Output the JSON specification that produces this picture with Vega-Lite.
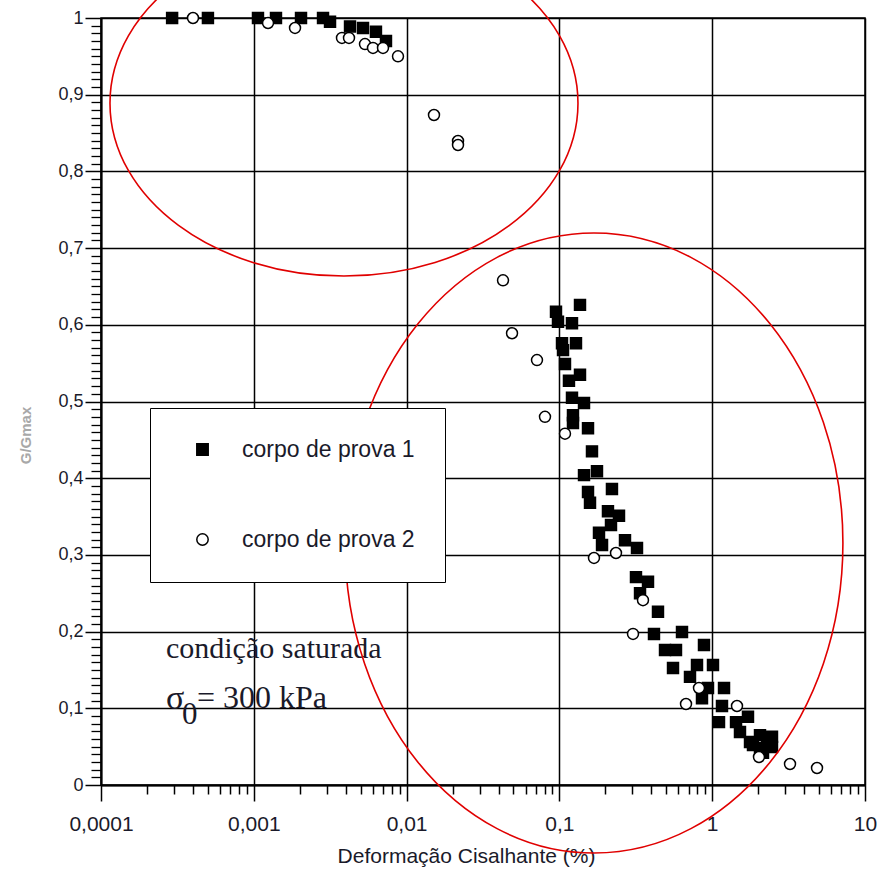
{
  "$schema": "https://vega.github.io/schema/vega-lite/v6.json",
  "width": 764,
  "height": 767,
  "autosize": {"type": "none"},
  "padding": {"left": 101, "top": 18, "right": 18, "bottom": 89},
  "background": "white",
  "config": {
    "font": "Liberation Sans",
    "view": {"stroke": "black", "strokeWidth": 1.5},
    "axis": {"labelColor": "#1a1a2a", "tickColor": "black", "domainColor": "black", "gridColor": "black", "gridOpacity": 1, "labelFlush": false, "tickOpacity": 1}
  },
  "datasets": {
    "pts": [
      {"gamma": 0.000292, "g": 1.0, "serie": "corpo de prova 1"},
      {"gamma": 0.000501, "g": 1.0, "serie": "corpo de prova 1"},
      {"gamma": 0.001065, "g": 1.0, "serie": "corpo de prova 1"},
      {"gamma": 0.001397, "g": 1.0, "serie": "corpo de prova 1"},
      {"gamma": 0.002037, "g": 1.0, "serie": "corpo de prova 1"},
      {"gamma": 0.002838, "g": 1.0, "serie": "corpo de prova 1"},
      {"gamma": 0.003154, "g": 0.995, "serie": "corpo de prova 1"},
      {"gamma": 0.004263, "g": 0.989, "serie": "corpo de prova 1"},
      {"gamma": 0.005185, "g": 0.987, "serie": "corpo de prova 1"},
      {"gamma": 0.006302, "g": 0.982, "serie": "corpo de prova 1"},
      {"gamma": 0.00733, "g": 0.97, "serie": "corpo de prova 1"},
      {"gamma": 0.1364, "g": 0.626, "serie": "corpo de prova 1"},
      {"gamma": 0.095, "g": 0.617, "serie": "corpo de prova 1"},
      {"gamma": 0.0979, "g": 0.604, "serie": "corpo de prova 1"},
      {"gamma": 0.1209, "g": 0.602, "serie": "corpo de prova 1"},
      {"gamma": 0.104, "g": 0.576, "serie": "corpo de prova 1"},
      {"gamma": 0.1284, "g": 0.576, "serie": "corpo de prova 1"},
      {"gamma": 0.1056, "g": 0.567, "serie": "corpo de prova 1"},
      {"gamma": 0.1088, "g": 0.549, "serie": "corpo de prova 1"},
      {"gamma": 0.1364, "g": 0.535, "serie": "corpo de prova 1"},
      {"gamma": 0.1155, "g": 0.527, "serie": "corpo de prova 1"},
      {"gamma": 0.1209, "g": 0.505, "serie": "corpo de prova 1"},
      {"gamma": 0.1449, "g": 0.498, "serie": "corpo de prova 1"},
      {"gamma": 0.1227, "g": 0.482, "serie": "corpo de prova 1"},
      {"gamma": 0.1227, "g": 0.472, "serie": "corpo de prova 1"},
      {"gamma": 0.1539, "g": 0.465, "serie": "corpo de prova 1"},
      {"gamma": 0.1634, "g": 0.435, "serie": "corpo de prova 1"},
      {"gamma": 0.1449, "g": 0.404, "serie": "corpo de prova 1"},
      {"gamma": 0.1762, "g": 0.409, "serie": "corpo de prova 1"},
      {"gamma": 0.2208, "g": 0.386, "serie": "corpo de prova 1"},
      {"gamma": 0.1539, "g": 0.382, "serie": "corpo de prova 1"},
      {"gamma": 0.1586, "g": 0.368, "serie": "corpo de prova 1"},
      {"gamma": 0.2079, "g": 0.357, "serie": "corpo de prova 1"},
      {"gamma": 0.2455, "g": 0.351, "serie": "corpo de prova 1"},
      {"gamma": 0.2176, "g": 0.339, "serie": "corpo de prova 1"},
      {"gamma": 0.1816, "g": 0.329, "serie": "corpo de prova 1"},
      {"gamma": 0.1901, "g": 0.313, "serie": "corpo de prova 1"},
      {"gamma": 0.2687, "g": 0.319, "serie": "corpo de prova 1"},
      {"gamma": 0.322, "g": 0.309, "serie": "corpo de prova 1"},
      {"gamma": 0.3171, "g": 0.271, "serie": "corpo de prova 1"},
      {"gamma": 0.3801, "g": 0.265, "serie": "corpo de prova 1"},
      {"gamma": 0.337, "g": 0.25, "serie": "corpo de prova 1"},
      {"gamma": 0.4418, "g": 0.226, "serie": "corpo de prova 1"},
      {"gamma": 0.4159, "g": 0.197, "serie": "corpo de prova 1"},
      {"gamma": 0.6344, "g": 0.1995, "serie": "corpo de prova 1"},
      {"gamma": 0.4911, "g": 0.176, "serie": "corpo de prova 1"},
      {"gamma": 0.5795, "g": 0.176, "serie": "corpo de prova 1"},
      {"gamma": 0.8836, "g": 0.1825, "serie": "corpo de prova 1"},
      {"gamma": 0.554, "g": 0.1525, "serie": "corpo de prova 1"},
      {"gamma": 0.7953, "g": 0.1565, "serie": "corpo de prova 1"},
      {"gamma": 1.012, "g": 0.1565, "serie": "corpo de prova 1"},
      {"gamma": 0.7156, "g": 0.141, "serie": "corpo de prova 1"},
      {"gamma": 0.9387, "g": 0.1265, "serie": "corpo de prova 1"},
      {"gamma": 1.195, "g": 0.1265, "serie": "corpo de prova 1"},
      {"gamma": 0.8574, "g": 0.113, "serie": "corpo de prova 1"},
      {"gamma": 1.159, "g": 0.103, "serie": "corpo de prova 1"},
      {"gamma": 1.108, "g": 0.082, "serie": "corpo de prova 1"},
      {"gamma": 1.432, "g": 0.082, "serie": "corpo de prova 1"},
      {"gamma": 1.715, "g": 0.089, "serie": "corpo de prova 1"},
      {"gamma": 1.52, "g": 0.069, "serie": "corpo de prova 1"},
      {"gamma": 1.768, "g": 0.056, "serie": "corpo de prova 1"},
      {"gamma": 2.055, "g": 0.065, "serie": "corpo de prova 1"},
      {"gamma": 2.284, "g": 0.056, "serie": "corpo de prova 1"},
      {"gamma": 2.462, "g": 0.063, "serie": "corpo de prova 1"},
      {"gamma": 2.055, "g": 0.048, "serie": "corpo de prova 1"},
      {"gamma": 2.462, "g": 0.0495, "serie": "corpo de prova 1"},
      {"gamma": 2.15, "g": 0.042, "serie": "corpo de prova 1"},
      {"gamma": 1.849, "g": 0.052, "serie": "corpo de prova 1"},
      {"gamma": 0.0004, "g": 1.0, "serie": "corpo de prova 2"},
      {"gamma": 0.001239, "g": 0.9935, "serie": "corpo de prova 2"},
      {"gamma": 0.001861, "g": 0.987, "serie": "corpo de prova 2"},
      {"gamma": 0.003777, "g": 0.974, "serie": "corpo de prova 2"},
      {"gamma": 0.004198, "g": 0.974, "serie": "corpo de prova 2"},
      {"gamma": 0.005341, "g": 0.966, "serie": "corpo de prova 2"},
      {"gamma": 0.006026, "g": 0.961, "serie": "corpo de prova 2"},
      {"gamma": 0.007007, "g": 0.961, "serie": "corpo de prova 2"},
      {"gamma": 0.008784, "g": 0.95, "serie": "corpo de prova 2"},
      {"gamma": 0.01511, "g": 0.8735, "serie": "corpo de prova 2"},
      {"gamma": 0.0217, "g": 0.8396, "serie": "corpo de prova 2"},
      {"gamma": 0.0217, "g": 0.8344, "serie": "corpo de prova 2"},
      {"gamma": 0.04275, "g": 0.658, "serie": "corpo de prova 2"},
      {"gamma": 0.04897, "g": 0.589, "serie": "corpo de prova 2"},
      {"gamma": 0.07134, "g": 0.554, "serie": "corpo de prova 2"},
      {"gamma": 0.08048, "g": 0.48, "serie": "corpo de prova 2"},
      {"gamma": 0.1088, "g": 0.458, "serie": "corpo de prova 2"},
      {"gamma": 0.1684, "g": 0.296, "serie": "corpo de prova 2"},
      {"gamma": 0.2346, "g": 0.3025, "serie": "corpo de prova 2"},
      {"gamma": 0.3524, "g": 0.241, "serie": "corpo de prova 2"},
      {"gamma": 0.3032, "g": 0.197, "serie": "corpo de prova 2"},
      {"gamma": 0.8196, "g": 0.1265, "serie": "corpo de prova 2"},
      {"gamma": 0.6739, "g": 0.1056, "serie": "corpo de prova 2"},
      {"gamma": 1.453, "g": 0.103, "serie": "corpo de prova 2"},
      {"gamma": 2.024, "g": 0.0365, "serie": "corpo de prova 2"},
      {"gamma": 3.23, "g": 0.0274, "serie": "corpo de prova 2"},
      {"gamma": 4.852, "g": 0.0222, "serie": "corpo de prova 2"}
    ]
  },
  "layer": [
    {
      "data": {"name": "pts"},
      "mark": {"type": "point", "size": 120, "strokeWidth": 1.5, "opacity": 1},
      "encoding": {
        "x": {
          "field": "gamma", "type": "quantitative",
          "scale": {"type": "log", "domain": [0.0001, 10], "nice": false},
          "axis": {
            "orient": "bottom",
            "values": [0.0001, 0.001, 0.01, 0.1, 1, 10],
            "grid": true, "gridWidth": 1.5,
            "tickSize": 16, "tickWidth": 1.5,
            "domainWidth": 2,
            "labelFontSize": 21, "labelPadding": 12,
            "labelExpr": "replace(format(datum.value, '.4~f'), '.', ',')",
            "title": "Deformação Cisalhante (%)",
            "titleFontSize": 21, "titleFontWeight": "normal", "titleColor": "#1a1a2a",
            "titleX": 365, "titleY": 60, "titleBaseline": "top"
          }
        },
        "y": {
          "field": "g", "type": "quantitative",
          "scale": {"domain": [0, 1], "nice": false, "zero": true},
          "axis": {
            "orient": "left",
            "values": [0, 0.01, 0.02, 0.03, 0.04, 0.05, 0.06, 0.07, 0.08, 0.09, 0.1, 0.11, 0.12, 0.13, 0.14, 0.15, 0.16, 0.17, 0.18, 0.19, 0.2, 0.21, 0.22, 0.23, 0.24, 0.25, 0.26, 0.27, 0.28, 0.29, 0.3, 0.31, 0.32, 0.33, 0.34, 0.35, 0.36, 0.37, 0.38, 0.39, 0.4, 0.41, 0.42, 0.43, 0.44, 0.45, 0.46, 0.47, 0.48, 0.49, 0.5, 0.51, 0.52, 0.53, 0.54, 0.55, 0.56, 0.57, 0.58, 0.59, 0.6, 0.61, 0.62, 0.63, 0.64, 0.65, 0.66, 0.67, 0.68, 0.69, 0.7, 0.71, 0.72, 0.73, 0.74, 0.75, 0.76, 0.77, 0.78, 0.79, 0.8, 0.81, 0.82, 0.83, 0.84, 0.85, 0.86, 0.87, 0.88, 0.89, 0.9, 0.91, 0.92, 0.93, 0.94, 0.95, 0.96, 0.97, 0.98, 0.99, 1],
            "grid": true, "gridWidth": 1.5,
            "gridOpacity": {"condition": {"test": "abs(datum.value * 10 - round(datum.value * 10)) < 0.001", "value": 1}, "value": 0},
            "tickSize": {"condition": {"test": "abs(datum.value * 10 - round(datum.value * 10)) < 0.001", "value": 16}, "value": 10},
            "tickWidth": {"condition": {"test": "abs(datum.value * 10 - round(datum.value * 10)) < 0.001", "value": 1.5}, "value": 1.3},
            "tickColor": "black",
            "domainWidth": 2,
            "labelFontSize": 18, "labelPadding": 2,
            "labelExpr": "abs(datum.value * 10 - round(datum.value * 10)) < 0.001 ? replace(format(datum.value, '.1~f'), '.', ',') : ''",
            "title": "G/Gmax",
            "titleFontSize": 15, "titleFontWeight": "bold", "titleColor": "#a8a8a8",
            "titlePadding": 24, "titleY": 417
          }
        },
        "shape": {
          "field": "serie", "type": "nominal",
          "scale": {"domain": ["corpo de prova 1", "corpo de prova 2"], "range": ["square", "circle"]},
          "legend": {
            "orient": "none", "legendX": 49, "legendY": 390, "title": null,
            "fillColor": "white", "strokeColor": "black",
            "padding": 30, "rowPadding": 66, "symbolOffset": 11, "labelLimit": 500,
            "labelFontSize": 23, "labelColor": "#1a1a2a", "labelOffset": 28,
            "symbolSize": 130, "symbolStrokeWidth": 1.5
          }
        },
        "fill": {
          "field": "serie", "type": "nominal",
          "scale": {"domain": ["corpo de prova 1", "corpo de prova 2"], "range": ["black", "white"]},
          "legend": {
            "orient": "none", "legendX": 49, "legendY": 390, "title": null,
            "fillColor": "white", "strokeColor": "black",
            "padding": 30, "rowPadding": 66, "symbolOffset": 11, "labelLimit": 500,
            "labelFontSize": 23, "labelColor": "#1a1a2a", "labelOffset": 28,
            "symbolSize": 130, "symbolStrokeWidth": 1.5
          }
        },
        "stroke": {
          "field": "serie", "type": "nominal",
          "scale": {"domain": ["corpo de prova 1", "corpo de prova 2"], "range": ["black", "black"]},
          "legend": {
            "orient": "none", "legendX": 49, "legendY": 390, "title": null,
            "fillColor": "white", "strokeColor": "black",
            "padding": 30, "rowPadding": 66, "symbolOffset": 11, "labelLimit": 500,
            "labelFontSize": 23, "labelColor": "#1a1a2a", "labelOffset": 28,
            "symbolSize": 130, "symbolStrokeWidth": 1.5
          }
        }
      }
    },
    {
      "data": {"values": [{}]},
      "mark": {"type": "text", "font": "Liberation Serif", "fontSize": 30, "align": "left", "baseline": "alphabetic", "color": "#1a1a2a"},
      "encoding": {
        "x": {"datum": 0.000266, "type": "quantitative", "scale": {"type": "log", "domain": [0.0001, 10], "nice": false}, "axis": null},
        "y": {"datum": 0.1656, "type": "quantitative", "scale": {"domain": [0, 1], "nice": false}, "axis": null},
        "text": {"value": "condição saturada"}
      }
    },
    {
      "data": {"values": [{}]},
      "mark": {"type": "text", "font": "Liberation Serif", "fontSize": 34, "align": "left", "baseline": "alphabetic", "color": "#1a1a2a"},
      "encoding": {
        "x": {"datum": 0.000266, "type": "quantitative", "scale": {"type": "log", "domain": [0.0001, 10], "nice": false}, "axis": null},
        "y": {"datum": 0.0985, "type": "quantitative", "scale": {"domain": [0, 1], "nice": false}, "axis": null},
        "text": {"value": "σ"}
      }
    },
    {
      "data": {"values": [{}]},
      "mark": {"type": "text", "font": "Liberation Serif", "fontSize": 31, "align": "left", "baseline": "alphabetic", "color": "#1a1a2a"},
      "encoding": {
        "x": {"datum": 0.000339, "type": "quantitative", "scale": {"type": "log", "domain": [0.0001, 10], "nice": false}, "axis": null},
        "y": {"datum": 0.08, "type": "quantitative", "scale": {"domain": [0, 1], "nice": false}, "axis": null},
        "text": {"value": "0"}
      }
    },
    {
      "data": {"values": [{}]},
      "mark": {"type": "text", "font": "Liberation Serif", "fontSize": 32, "align": "left", "baseline": "alphabetic", "color": "#1a1a2a"},
      "encoding": {
        "x": {"datum": 0.000425, "type": "quantitative", "scale": {"type": "log", "domain": [0.0001, 10], "nice": false}, "axis": null},
        "y": {"datum": 0.1004, "type": "quantitative", "scale": {"domain": [0, 1], "nice": false}, "axis": null},
        "text": {"value": "= 300 kPa"}
      }
    },
    {
      "data": {"values": [{}]},
      "mark": {"type": "point", "filled": false, "stroke": "#e00000", "strokeWidth": 1.6, "opacity": 1, "size": 219024,
        "shape": "M -1 0 C -1 -0.408 -0.5523 -0.739 0 -0.739 C 0.5523 -0.739 1 -0.408 1 0 C 1 0.408 0.5523 0.739 0 0.739 C -0.5523 0.739 -1 0.408 -1 0 Z"},
      "encoding": {
        "x": {"datum": 0.003892, "type": "quantitative", "scale": {"type": "log", "domain": [0.0001, 10], "nice": false},
          "axis": {"orient": "bottom", "values": [0.0002, 0.0003, 0.0004, 0.0005, 0.0006, 0.0007, 0.0008, 0.0009, 0.002, 0.003, 0.004, 0.005, 0.006, 0.007, 0.008, 0.009, 0.02, 0.03, 0.04, 0.05, 0.06, 0.07, 0.08, 0.09, 0.2, 0.3, 0.4, 0.5, 0.6, 0.7, 0.8, 0.9, 2, 3, 4, 5, 6, 7, 8, 9],
            "labels": false, "grid": false, "domain": false, "tickSize": 9, "tickWidth": 1.5, "title": null}},
        "y": {"datum": 0.889, "type": "quantitative", "scale": {"domain": [0, 1], "nice": false}, "axis": null}
      }
    },
    {
      "data": {"values": [{}]},
      "mark": {"type": "point", "filled": false, "stroke": "#e00000", "strokeWidth": 1.6, "opacity": 1, "size": 384400,
        "shape": "M -0.803 0 C -0.803 -0.5523 -0.4435 -1 0 -1 C 0.4435 -1 0.803 -0.5523 0.803 0 C 0.803 0.5523 0.4435 1 0 1 C -0.4435 1 -0.803 0.5523 -0.803 0 Z"},
      "encoding": {
        "x": {"datum": 0.1684, "type": "quantitative", "scale": {"type": "log", "domain": [0.0001, 10], "nice": false}, "axis": null},
        "y": {"datum": 0.3155, "type": "quantitative", "scale": {"domain": [0, 1], "nice": false}, "axis": null}
      }
    }
  ],
  "resolve": {"axis": {"x": "independent", "y": "independent"}}
}
